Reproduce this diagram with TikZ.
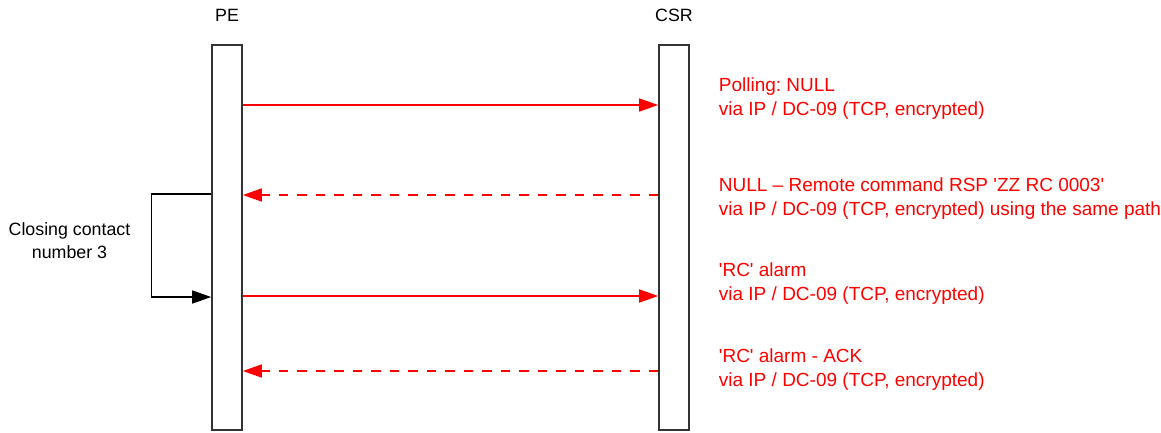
\documentclass[tikz,border=0pt]{standalone}
\usepackage{fontspec}
\setmainfont{Liberation Sans}[Ligatures=TeXOff]
\usetikzlibrary{arrows.meta}
\definecolor{boxgray}{RGB}{51,51,51}
\definecolor{msgred}{RGB}{255,0,0}
\begin{document}
\frenchspacing
\begin{tikzpicture}[x=1pt,y=-1pt,
  lifebox/.style={draw=boxgray, line width=1.6pt, inner sep=0pt, minimum width=30pt, minimum height=385pt},
  msg/.style={draw=msgred, line width=1.6pt, -{Triangle[length=19pt,width=13pt,fill=msgred]}},
  reply/.style={msg, dash pattern=on 9.5pt off 9pt},
  selfloop/.style={draw=black, line width=1.4pt, -{Triangle[length=19pt,width=13pt,fill=black]}},
  redlbl/.style={text=msgred, font=\fontsize{19}{23.6}\selectfont, align=left, anchor=base west, inner sep=0pt},
  blacklbl/.style={text=black, font=\fontsize{17.8}{23}\selectfont, inner sep=0pt}
]
\useasboundingbox (0,0) rectangle (1161,432);
\node[lifebox] (pe) at (227,237.5) {};
\node[lifebox] (csr) at (674,237.5) {};
\node[blacklbl, anchor=base] (pelbl) at (227,21.7) {PE};
\node[blacklbl, anchor=base] (csrlbl) at (674,21.7) {CSR};
\node[blacklbl, align=center, anchor=base] (closing) at (69.5,258) {Closing contact\\number 3};

\draw[msg] (pe.east |- 0,105) -- (csr.west |- 0,105);
\draw[reply] (csr.west |- 0,195) -- (pe.east |- 0,195);
\draw[msg] (pe.east |- 0,296) -- (csr.west |- 0,296);
\draw[reply] (csr.west |- 0,371) -- (pe.east |- 0,371);
\draw[selfloop] (pe.west |- 0,194) -- ++(-60,0) |- (pe.west |- 0,297);

\node[redlbl] (m1) at (718.7,115.2) {Polling: NULL\\via IP / DC-09 (TCP, encrypted)};
\node[redlbl] (m2) at (718.7,215) {NULL – Remote command RSP 'ZZ RC 0003'\\via IP / DC-09 (TCP, encrypted) using the same path};
\node[redlbl] (m3) at (718.7,300.5) {'RC' alarm\\via IP / DC-09 (TCP, encrypted)};
\node[redlbl] (m4) at (718.7,386.4) {'RC' alarm - ACK\\via IP / DC-09 (TCP, encrypted)};
\end{tikzpicture}
\end{document}
